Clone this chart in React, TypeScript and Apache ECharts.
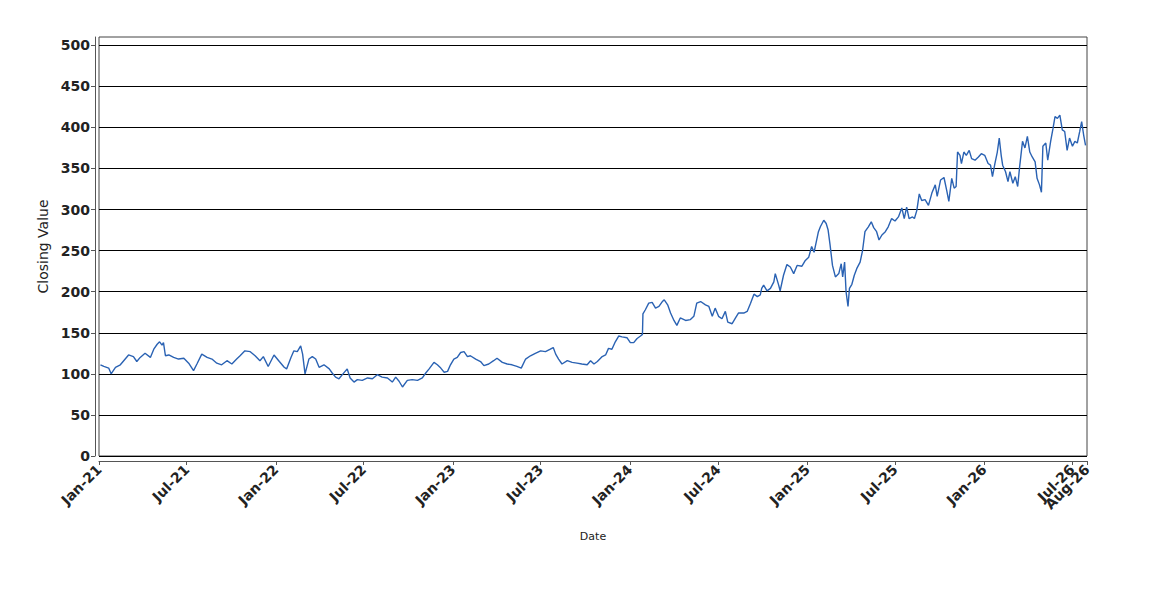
import React, { useEffect, useRef } from "react";
import * as echarts from "echarts";

// Days since 2021-01-01 for each read-off point
const dayOffsets = [
  3, 10, 20, 25, 34, 44, 51, 61, 71, 78, 85, 95, 106, 113, 120, 125, 130, 133, 137, 144,
  154, 164, 175, 185, 195, 202, 212, 223, 233, 243, 253, 264, 274, 284, 291, 301, 312, 322, 332, 339,
  349, 361, 372, 382, 387, 396, 402, 409, 416, 420, 425, 433, 440, 447, 454, 464, 475, 481, 488, 495,
  502, 512, 518, 526, 533, 543, 554, 564, 574, 584, 595, 605, 612, 619, 626, 636, 646, 657, 667, 674,
  681, 691, 698, 705, 712, 719, 725, 732, 739, 746, 753, 760, 766, 777, 787, 794, 804, 814, 821, 832,
  842, 852, 862, 871, 880, 890, 900, 911, 921, 931, 937, 942, 948, 955, 966, 976, 986, 996, 1007, 1014,
  1021, 1028, 1038, 1045, 1051, 1058, 1065, 1072, 1079, 1089, 1096, 1103, 1110, 1117, 1121, 1122, 1127, 1134, 1141, 1148,
  1155, 1162, 1166, 1173, 1179, 1186, 1192, 1199, 1210, 1220, 1227, 1233, 1241, 1251, 1258, 1265, 1271, 1278, 1285, 1292,
  1297, 1306, 1313, 1319, 1330, 1337, 1344, 1351, 1358, 1364, 1367, 1371, 1378, 1385, 1392, 1395, 1402, 1405, 1412, 1419,
  1426, 1433, 1440, 1450, 1457, 1464, 1470, 1475, 1479, 1484, 1488, 1495, 1500, 1504, 1508, 1513, 1519, 1526, 1531, 1534,
  1538, 1541, 1545, 1548, 1553, 1558, 1563, 1570, 1575, 1580, 1587, 1593, 1598, 1604, 1609, 1615, 1622, 1628, 1635, 1642,
  1649, 1656, 1661, 1666, 1671, 1678, 1682, 1687, 1692, 1697, 1704, 1711, 1718, 1725, 1729, 1736, 1743, 1749, 1753, 1759,
  1764, 1768, 1771, 1776, 1779, 1784, 1789, 1795, 1800, 1807, 1814, 1820, 1827, 1834, 1839, 1843, 1848, 1853, 1857, 1861,
  1864, 1870, 1875, 1879, 1885, 1890, 1895, 1899, 1905, 1910, 1915, 1920, 1925, 1931, 1935, 1940, 1944, 1947, 1953, 1957,
  1963, 1968, 1972, 1977, 1982, 1987, 1992, 1997, 2002, 2008, 2013, 2018, 2023, 2027, 2031, 2035,
];

const closingValues = [
  111, 109, 107, 100, 108, 111, 116, 123, 121, 115, 120, 125, 120, 130, 136, 139, 135, 138, 122, 123,
  120, 118, 119, 113, 104, 112, 124, 120, 118, 113, 111, 116, 112, 118, 122, 128, 127, 122, 116, 121,
  109, 123, 115, 108, 106, 120, 128, 127, 134, 124, 100, 118, 121, 118, 108, 111, 106, 101, 96, 94,
  99, 106, 95, 90, 93, 92, 95, 94, 99, 96, 95, 90, 96, 91, 84, 92, 93, 92, 95, 101,
  106, 114, 111, 107, 102, 103, 111, 118, 120, 126, 127, 121, 122, 118, 115, 110, 112, 116, 119, 114,
  112, 111, 109, 107, 118, 122, 125, 128, 127, 130, 132, 124, 118, 112, 116, 114, 113, 112, 111, 116,
  112, 115, 121, 123, 131, 130, 139, 146, 145, 144, 138, 138, 143, 146, 148, 173, 178, 186, 187, 180,
  182, 188, 190, 184, 174, 165, 159, 168, 165, 166, 170, 186, 188, 184, 182, 170, 180, 170, 167, 176,
  163, 161, 168, 174, 174, 176, 186, 197, 194, 196, 204, 208, 201, 204, 212, 222, 208, 201, 220, 233,
  230, 222, 232, 231, 238, 242, 255, 248, 259, 273, 279, 287, 283, 275, 257, 232, 218, 222, 234, 218,
  236, 200, 182, 204, 209, 220, 228, 236, 250, 273, 279, 285, 278, 273, 263, 269, 273, 279, 289, 286,
  291, 302, 289, 303, 289, 291, 289, 299, 319, 311, 312, 305, 320, 330, 316, 336, 339, 322, 310, 338,
  326, 328, 370, 366, 356, 370, 366, 372, 362, 360, 364, 368, 366, 356, 354, 340, 356, 370, 387, 366,
  354, 346, 334, 346, 332, 340, 328, 352, 383, 375, 389, 370, 364, 358, 338, 330, 321, 377, 381, 360,
  383, 399, 413, 411, 415, 397, 395, 372, 387, 377, 383, 381, 395, 407, 391, 378,
];

// Tick positions on the date axis: [year, monthIndex]
const dateTicks: [number, number][] = [
  [2021, 0], [2021, 6], [2022, 0], [2022, 6], [2023, 0], [2023, 6],
  [2024, 0], [2024, 6], [2025, 0], [2025, 6], [2026, 0], [2026, 6],
];
const endTick: [number, number] = [2026, 7];
const monthNames = ["Jan", "Feb", "Mar", "Apr", "May", "Jun", "Jul", "Aug", "Sep", "Oct", "Nov", "Dec"];
const valueTicks = [0, 50, 100, 150, 200, 250, 300, 350, 400, 450, 500];

const FONT = "DejaVu Sans";

const fmtDate = (v: number) => {
  const d = new Date(v);
  return monthNames[d.getMonth()] + "-" + String(d.getFullYear() % 100).padStart(2, "0");
};

export default function App() {
  const ref = useRef<HTMLDivElement>(null);
  useEffect(() => {
    if (!ref.current) return;
    const chart = echarts.init(ref.current, undefined, { renderer: "svg" });
    const data = dayOffsets.map((d, i) => [new Date(2021, 0, 1 + d).getTime(), closingValues[i]]);
    const tickTimes = dateTicks.map(([y, m]) => new Date(y, m, 1).getTime());
    const endTime = new Date(endTick[0], endTick[1], 1).getTime();
    const labelStyle = {
      rotate: 45,
      margin: 6,
      hideOverlap: false,
      fontFamily: FONT,
      fontSize: 14,
      fontWeight: "bold",
      color: "#222",
      formatter: fmtDate,
    };
    chart.setOption({
      animation: false,
      backgroundColor: "#ffffff",
      grid: {
        left: 99,
        right: 63,
        top: 37,
        bottom: 144,
        show: true,
        borderColor: "#444",
        borderWidth: 1,
        backgroundColor: "transparent",
      },
      xAxis: [
        {
          type: "value",
          min: tickTimes[0],
          max: endTime,
          scale: true,
          offset: 5,
          position: "bottom",
          name: "Date",
          nameLocation: "middle",
          nameGap: 70,
          nameTextStyle: { fontFamily: FONT, fontSize: 11, color: "#222" },
          axisLine: { show: true, onZero: false, lineStyle: { color: "#555", width: 1 } },
          axisTick: { show: true, customValues: tickTimes, length: 4, lineStyle: { color: "#555" } },
          axisLabel: { ...labelStyle, customValues: tickTimes, showMinLabel: true, showMaxLabel: true },
          splitLine: { show: false },
        },
        {
          type: "value",
          min: tickTimes[0],
          max: endTime,
          scale: true,
          offset: 5,
          position: "bottom",
          axisLine: { show: false, onZero: false },
          axisTick: { show: true, customValues: [endTime], length: 4, lineStyle: { color: "#555" } },
          axisLabel: { ...labelStyle, customValues: [endTime], showMinLabel: true, showMaxLabel: true },
          splitLine: { show: false },
        },
      ],
      yAxis: {
        type: "value",
        min: 0,
        max: 510,
        interval: 50,
        offset: 4,
        name: "Closing Value",
        nameLocation: "middle",
        nameGap: 44,
        nameTextStyle: { fontFamily: FONT, fontSize: 14, color: "#222" },
        axisLine: { show: true, lineStyle: { color: "#555", width: 1 } },
        axisTick: { show: true, customValues: valueTicks, length: 4, lineStyle: { color: "#555" } },
        axisLabel: {
          customValues: valueTicks,
          margin: 5,
          fontFamily: FONT,
          fontSize: 14,
          fontWeight: "bold",
          color: "#222",
        },
        splitLine: { show: true, lineStyle: { color: "#000", width: 1 } },
      },
      series: [
        {
          type: "line",
          xAxisIndex: 0,
          data,
          showSymbol: false,
          symbol: "none",
          lineStyle: { color: "#2a62b3", width: 1.4 },
        },
      ],
    });
    return () => chart.dispose();
  }, []);
  return (
    <div
      ref={ref}
      style={{ position: "fixed", left: 0, top: 0, width: 1150, height: 600, background: "#fff" }}
    />
  );
}
